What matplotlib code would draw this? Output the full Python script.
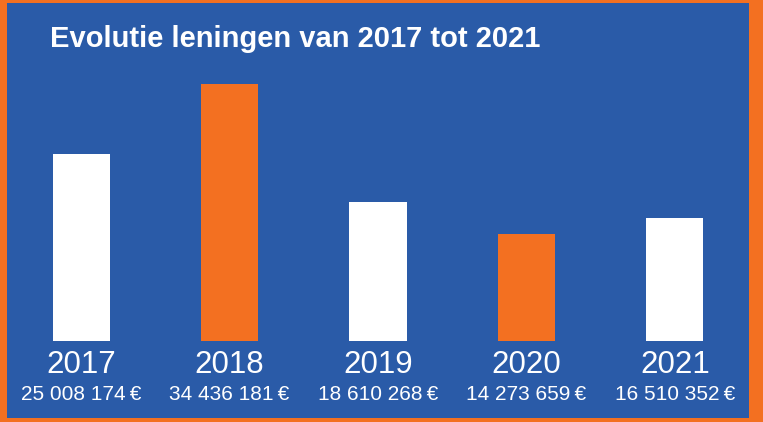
import matplotlib
matplotlib.use("Agg")
import matplotlib.pyplot as plt
from matplotlib.patches import Rectangle
from matplotlib.transforms import blended_transform_factory

# data
years = ["2017", "2018", "2019", "2020", "2021"]
amounts = [25008174, 34436181, 18610268, 14273659, 16510352]
amount_labels = ["25 008 174\u2009€", "34 436 181\u2009€", "18 610 268\u2009€",
                 "14 273 659\u2009€", "16 510 352\u2009€"]

BLUE = "#2a5ba8"
ORANGE = "#f37021"
bar_colors = ["white", ORANGE, "white", ORANGE, "white"]

W, H = 763, 422
fig = plt.figure(figsize=(W / 100, H / 100), dpi=100, facecolor=ORANGE)

# blue panel inside the orange frame
fig.patches.append(Rectangle((7 / W, 4 / H), (749 - 7) / W, (419 - 4) / H,
                             transform=fig.transFigure, facecolor=BLUE,
                             edgecolor="none", zorder=-5))

ax = fig.add_axes([7 / W, (H - 341) / H, 742 / W, (341 - 84) / H])
ax.set_zorder(2)
ax.set_facecolor("none")
ax.bar(range(len(years)), amounts, width=0.385, color=bar_colors)
ax.set_xlim(-0.5, 4.5)
ax.set_ylim(0, max(amounts))
ax.axis("off")

trans = blended_transform_factory(ax.transData, fig.transFigure)
for i, (yr, lab) in enumerate(zip(years, amount_labels)):
    ax.text(i, 1 - 365 / H, yr, transform=trans, ha="center", va="center",
            color="white", fontsize=22.5, clip_on=False,
            family=["Liberation Sans Narrow", "Liberation Sans"])
    ax.text(i, 1 - 395 / H, lab, transform=trans, ha="center", va="center",
            color="white", fontsize=15, clip_on=False,
            family=["Liberation Sans Narrow", "Liberation Sans", "DejaVu Sans"])

fig.text(50 / W, 1 - 39 / H, "Evolutie leningen van 2017 tot 2021",
         ha="left", va="center", color="white", fontsize=21, fontweight="bold",
         family=["Liberation Sans Narrow", "Liberation Sans"], zorder=3)

fig.savefig("out.png", dpi=100, facecolor=ORANGE)
